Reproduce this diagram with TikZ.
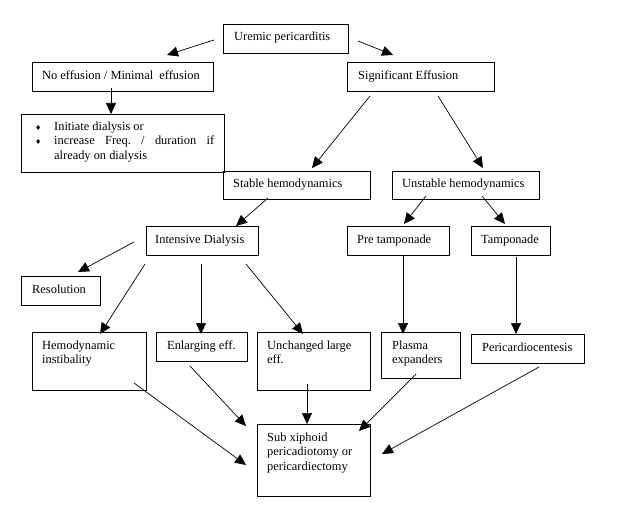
\documentclass[tikz,border=0pt]{standalone}
\usepackage{fontspec}
\setmainfont{Liberation Serif}
\newfontfamily\bulfont{DejaVu Sans}
\usetikzlibrary{arrows.meta}
\newcommand\bulmark{\makebox[19pt][l]{\bulfont\fontsize{7}{7}\selectfont ♦}}
\frenchspacing
\begin{document}
\begin{tikzpicture}[x=1pt,y=-1pt,
  box/.style={draw, line width=0.9pt, inner sep=0pt, anchor=north west},
  txt/.style={inner sep=0pt, anchor=north west, align=left, yshift=10.22pt,
    font=\fontsize{12.4}{14.6}\selectfont},
  arr/.style={line width=0.7pt, -{Triangle[length=11pt,width=10pt]}}]
\useasboundingbox (0,0) rectangle (617,505);
% boxes
\node[box, minimum width=125pt, minimum height=29pt] (ur) at (223,24) {};
\node[box, minimum width=181pt, minimum height=29pt] (ne) at (32,62) {};
\node[box, minimum width=203pt, minimum height=58pt] (bu) at (21,114) {};
\node[box, minimum width=147pt, minimum height=29pt] (se) at (347,62) {};
\node[box, minimum width=147pt, minimum height=28pt] (st) at (223,171) {};
\node[box, minimum width=147pt, minimum height=28pt] (un) at (392,171) {};
\node[box, minimum width=112pt, minimum height=29pt] (id) at (146,226) {};
\node[box, minimum width=79pt, minimum height=29pt] (re) at (21,276) {};
\node[box, minimum width=114pt, minimum height=58pt] (hi) at (32,332) {};
\node[box, minimum width=91pt, minimum height=29pt] (en) at (156,332) {};
\node[box, minimum width=113pt, minimum height=58pt] (uc) at (257,332) {};
\node[box, minimum width=102pt, minimum height=29pt] (pt) at (347,226) {};
\node[box, minimum width=79pt, minimum height=29pt] (tp) at (471,226) {};
\node[box, minimum width=79pt, minimum height=46pt] (pe) at (381,332) {};
\node[box, minimum width=113pt, minimum height=29pt] (pc) at (471,334) {};
\node[box, minimum width=113pt, minimum height=72pt] (sx) at (257,424) {};
% texts (positioned at baselines)
\node[txt] (urt) at (234,40) {\strut Uremic pericarditis};
\node[txt] (net) at (42,79) {\strut No effusion / Minimal\ \ effusion};
\node[txt] (but) at (35,130) {\strut\bulmark Initiate dialysis or\\
  \strut\bulmark\makebox[160pt][s]{increase Freq. / duration if}\\
  \strut\hspace*{19pt}already on dialysis};
\node[txt] (set) at (358,79) {\strut Significant Effusion};
\node[txt] (stt) at (233,187) {\strut Stable hemodynamics};
\node[txt] (unt) at (402,187) {\strut Unstable hemodynamics};
\node[txt] (idt) at (155,243) {\strut Intensive Dialysis};
\node[txt] (ret) at (32,293) {\strut Resolution};
\node[txt] (hit) at (42,349) {\strut Hemodynamic\\\strut instibality};
\node[txt] (ent) at (167,349) {\strut Enlarging eff.};
\node[txt] (uct) at (267,349) {\strut Unchanged large\\\strut eff.};
\node[txt] (ptt) at (357,243) {\strut Pre tamponade};
\node[txt] (tpt) at (481,243) {\strut Tamponade};
\node[txt] (pet) at (392,349) {\strut Plasma\\\strut expanders};
\node[txt] (pct) at (482,351) {\strut Pericardiocentesis};
\node[txt] (sxt) at (267,441) {\strut Sub xiphoid\\\strut pericadiotomy or\\\strut pericardiectomy};
% connector end points
\coordinate (a1s) at (214,40);  \coordinate (a1e) at (167,55);
\coordinate (a2s) at (358,41);  \coordinate (a2e) at (393,55);
\coordinate (a3s) at (111,88);  \coordinate (a3e) at (111,114);
\coordinate (a4s) at (370,96);  \coordinate (a4e) at (312,168);
\coordinate (a5s) at (438,96);  \coordinate (a5e) at (483,168);
\coordinate (a6s) at (268,198); \coordinate (a6e) at (236,226);
\coordinate (a7s) at (426,196); \coordinate (a7e) at (404,224);
\coordinate (a8s) at (482,196); \coordinate (a8e) at (505,224);
\coordinate (a9s) at (134,242); \coordinate (a9e) at (78,272);
\coordinate (a10s) at (145,264); \coordinate (a10e) at (100,334);
\coordinate (a11s) at (201,264); \coordinate (a11e) at (201,334);
\coordinate (a12s) at (246,264); \coordinate (a12e) at (303,334);
\coordinate (a13s) at (403,255); \coordinate (a13e) at (403,334);
\coordinate (a14s) at (516,257); \coordinate (a14e) at (516,334);
\coordinate (a15s) at (134,383); \coordinate (a15e) at (246,465);
\coordinate (a16s) at (190,366); \coordinate (a16e) at (246,426);
\coordinate (a17s) at (307,384); \coordinate (a17e) at (307,424);
\coordinate (a18s) at (416,374); \coordinate (a18e) at (359,431);
\coordinate (a19s) at (539,367); \coordinate (a19e) at (382,454);
% connectors
\foreach \i in {1,...,19} {\draw[arr] (a\i s) -- (a\i e);}
\end{tikzpicture}
\end{document}
